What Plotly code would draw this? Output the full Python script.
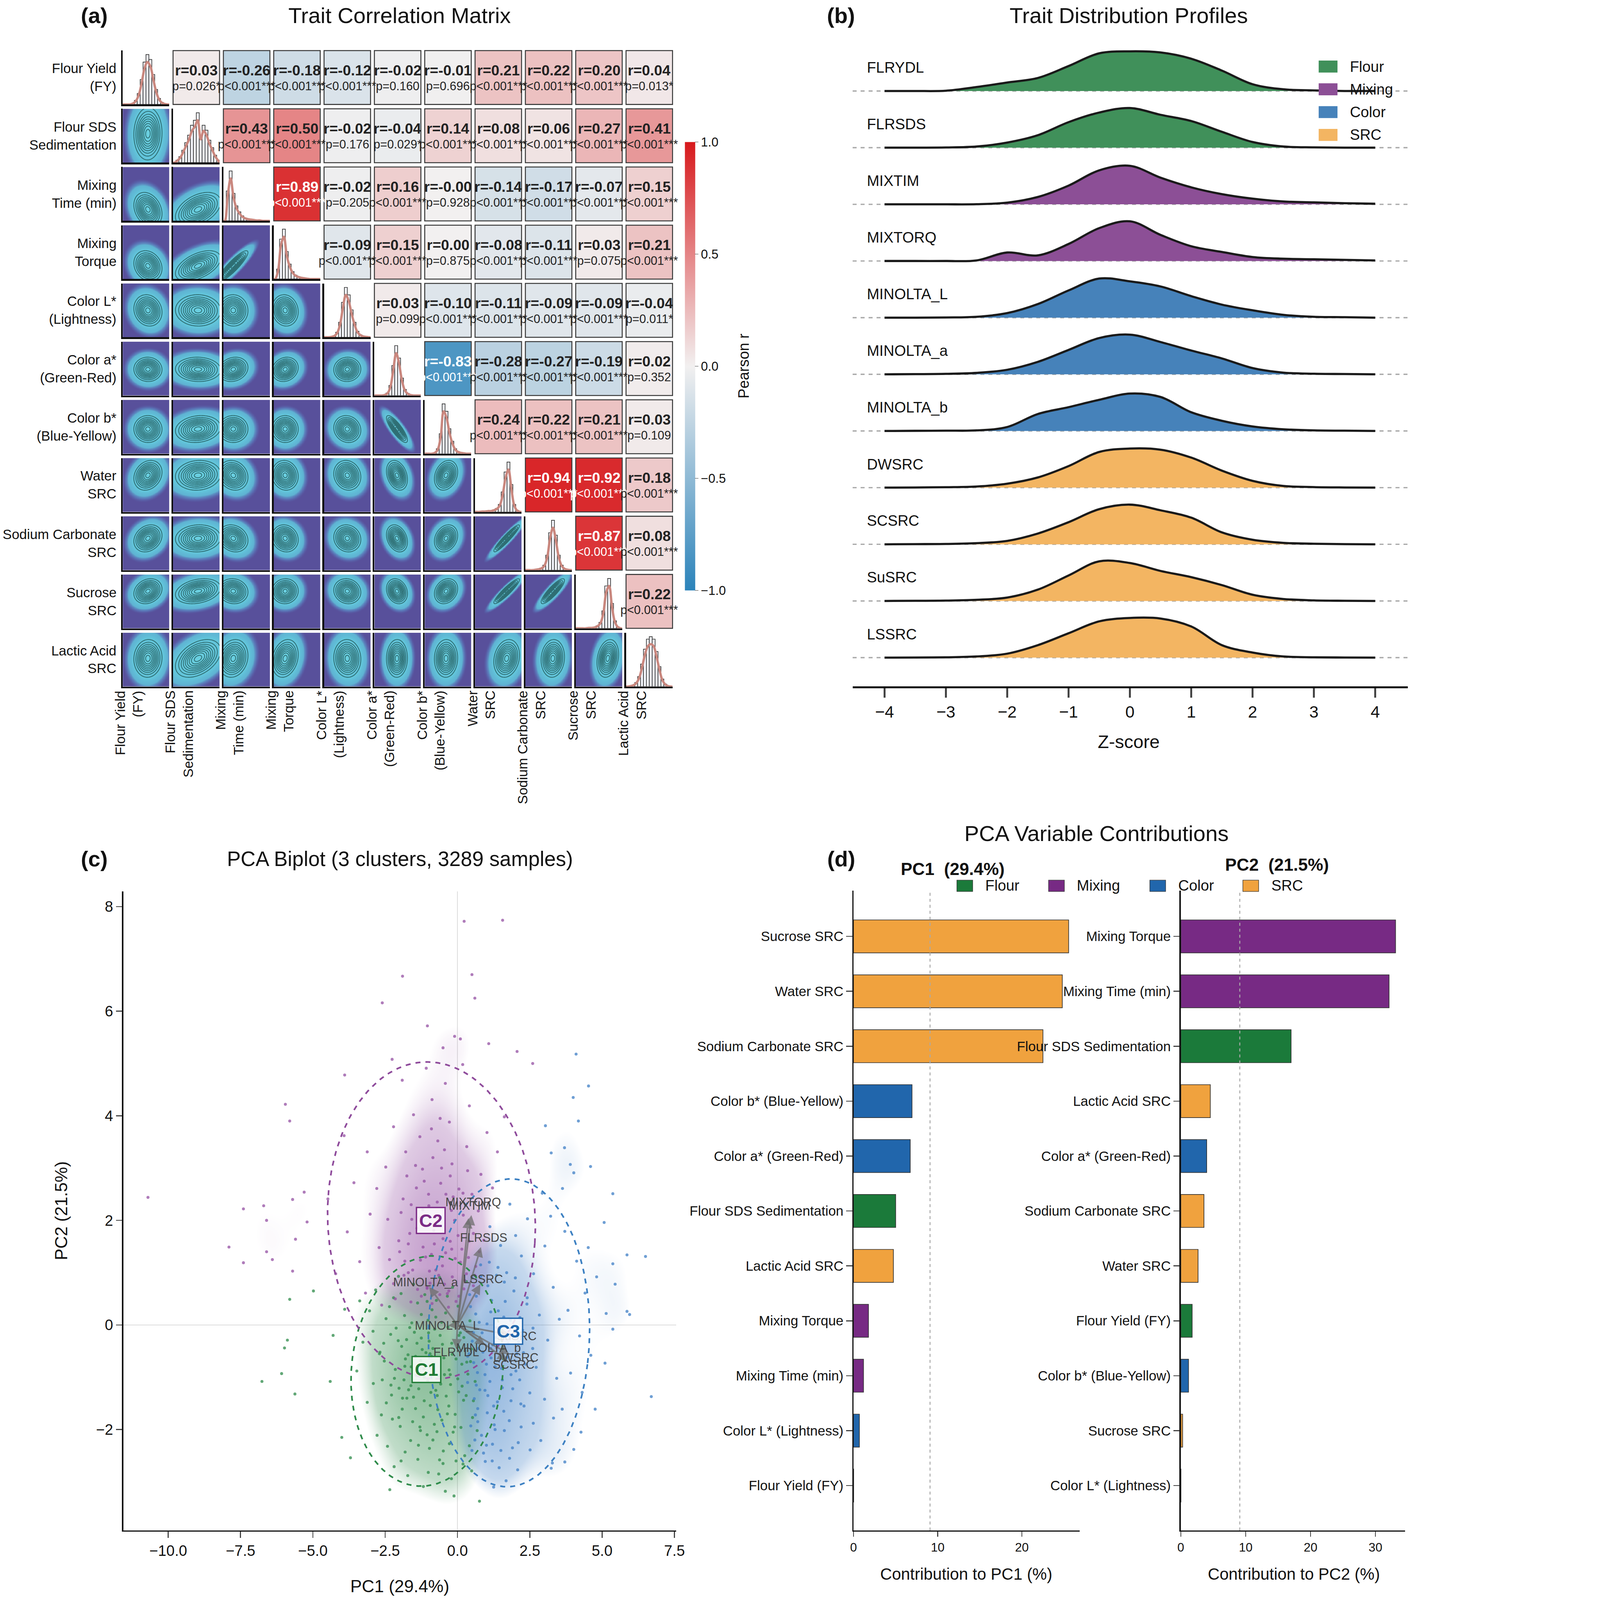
import numpy as np
import plotly.graph_objects as go

W, H = 4258, 4810
FONT = "Liberation Sans, Arial, Helvetica, sans-serif"

# ---------------- data : traits ----------------
traits = ["Flour Yield (FY)", "Flour SDS Sedimentation", "Mixing Time (min)", "Mixing Torque",
          "Color L* (Lightness)", "Color a* (Green-Red)", "Color b* (Blue-Yellow)", "Water SRC",
          "Sodium Carbonate SRC", "Sucrose SRC", "Lactic Acid SRC"]
matrix_labels = ["Flour Yield<br>(FY)", "Flour SDS<br>Sedimentation", "Mixing<br>Time (min)", "Mixing<br>Torque",
                 "Color L*<br>(Lightness)", "Color a*<br>(Green-Red)", "Color b*<br>(Blue-Yellow)", "Water<br>SRC",
                 "Sodium Carbonate<br>SRC", "Sucrose<br>SRC", "Lactic Acid<br>SRC"]
codes = ["FLRYDL", "FLRSDS", "MIXTIM", "MIXTORQ", "MINOLTA_L", "MINOLTA_a", "MINOLTA_b",
         "DWSRC", "SCSRC", "SuSRC", "LSSRC"]
groups = ["Flour", "Flour", "Mixing", "Mixing", "Color", "Color", "Color", "SRC", "SRC", "SRC", "SRC"]
group_names = ["Flour", "Mixing", "Color", "SRC"]

# upper triangle of the correlation matrix, row by row
r_rows = [
    [0.03, -0.26, -0.18, -0.12, -0.02, -0.01, 0.21, 0.22, 0.20, 0.04],
    [0.43, 0.50, -0.02, -0.04, 0.14, 0.08, 0.06, 0.27, 0.41],
    [0.89, -0.02, 0.16, -0.0, -0.14, -0.17, -0.07, 0.15],
    [-0.09, 0.15, 0.00, -0.08, -0.11, 0.03, 0.21],
    [0.03, -0.10, -0.11, -0.09, -0.09, -0.04],
    [-0.83, -0.28, -0.27, -0.19, 0.02],
    [0.24, 0.22, 0.21, 0.03],
    [0.94, 0.92, 0.18],
    [0.87, 0.08],
    [0.22],
]
P3 = "p<0.001***"
p_rows = [
    ["p=0.026*", P3, P3, P3, "p=0.160", "p=0.696", P3, P3, P3, "p=0.013*"],
    [P3, P3, "p=0.176", "p=0.029*", P3, P3, P3, P3, P3],
    [P3, "p=0.205", P3, "p=0.928", P3, P3, P3, P3],
    [P3, P3, "p=0.875", P3, P3, "p=0.075", P3],
    ["p=0.099", P3, P3, P3, P3, "p=0.011*"],
    [P3, P3, P3, P3, "p=0.352"],
    [P3, P3, P3, "p=0.109"],
    [P3, P3, P3],
    [P3, P3],
    [P3],
]

# diagonal histograms (relative bar heights, 16 bins across each cell)
hist_counts = {
    "FLRYDL":    [0, 0, 0, 0.02, 0.08, 0.22, 0.50, 0.85, 1.00, 0.90, 0.60, 0.30, 0.12, 0.04, 0.01, 0],
    "FLRSDS":    [0, 0.05, 0.12, 0.25, 0.40, 0.55, 0.75, 0.85, 1.00, 0.55, 0.75, 0.65, 0.45, 0.30, 0.15, 0.05],
    "MIXTIM":    [0, 0.60, 1.00, 0.55, 0.30, 0.18, 0.10, 0.06, 0.04, 0.03, 0.02, 0.01, 0.01, 0, 0, 0],
    "MIXTORQ":   [0, 0.20, 0.80, 1.00, 0.55, 0.30, 0.15, 0.08, 0.05, 0.03, 0.02, 0.01, 0, 0, 0, 0],
    "MINOLTA_L": [0, 0, 0.01, 0.03, 0.10, 0.30, 0.70, 1.00, 0.85, 0.55, 0.30, 0.12, 0.05, 0.02, 0.01, 0],
    "MINOLTA_a": [0, 0, 0, 0.01, 0.05, 0.20, 0.60, 1.00, 0.75, 0.35, 0.12, 0.04, 0.01, 0, 0, 0],
    "MINOLTA_b": [0, 0, 0, 0.02, 0.10, 0.40, 1.00, 0.85, 0.50, 0.25, 0.10, 0.04, 0.02, 0.01, 0, 0],
    "DWSRC":     [0, 0, 0.01, 0.01, 0.02, 0.02, 0.04, 0.07, 0.15, 0.40, 0.80, 1.00, 0.55, 0.15, 0.03, 0],
    "SCSRC":     [0, 0, 0, 0.01, 0.02, 0.04, 0.10, 0.30, 0.75, 1.00, 0.70, 0.30, 0.10, 0.03, 0.01, 0],
    "SuSRC":     [0, 0, 0, 0, 0.01, 0.01, 0.02, 0.05, 0.12, 0.35, 0.85, 1.00, 0.50, 0.15, 0.03, 0],
    "LSSRC":     [0, 0.01, 0.03, 0.08, 0.20, 0.45, 0.75, 0.95, 1.00, 0.95, 0.70, 0.40, 0.15, 0.05, 0.01, 0],
}

# ---------------- data : ridgelines (density read at z = -4 .. 4, step 0.5) ----------------
z_grid = [-4.0, -3.5, -3.0, -2.5, -2.0, -1.5, -1.0, -0.5, 0.0, 0.5, 1.0, 1.5, 2.0, 2.5, 3.0, 3.5, 4.0]
ridge_density = {
    "FLRYDL":    [0, 0, 0.005, 0.07, 0.15, 0.23, 0.44, 0.665, 0.70, 0.68, 0.57, 0.36, 0.12, 0.03, 0.01, 0, 0],
    "FLRSDS":    [0, 0, 0.003, 0.02, 0.09, 0.22, 0.45, 0.62, 0.70, 0.58, 0.47, 0.28, 0.10, 0.02, 0.005, 0, 0],
    "MIXTIM":    [0, 0, 0, 0.002, 0.03, 0.13, 0.33, 0.60, 0.68, 0.47, 0.30, 0.18, 0.10, 0.05, 0.035, 0.02, 0.01],
    "MIXTORQ":   [0, 0, 0, 0.01, 0.15, 0.10, 0.30, 0.58, 0.70, 0.46, 0.26, 0.16, 0.07, 0.04, 0.03, 0.02, 0.01],
    "MINOLTA_L": [0, 0, 0.003, 0.015, 0.08, 0.24, 0.48, 0.69, 0.64, 0.55, 0.38, 0.23, 0.13, 0.05, 0.015, 0.008, 0],
    "MINOLTA_a": [0, 0.003, 0.008, 0.025, 0.08, 0.22, 0.43, 0.64, 0.70, 0.57, 0.42, 0.28, 0.11, 0.03, 0.01, 0.005, 0],
    "MINOLTA_b": [0, 0.003, 0.006, 0.01, 0.07, 0.30, 0.42, 0.55, 0.66, 0.60, 0.33, 0.18, 0.08, 0.03, 0.01, 0.005, 0],
    "DWSRC":     [0, 0.003, 0.008, 0.02, 0.07, 0.18, 0.38, 0.63, 0.69, 0.67, 0.53, 0.30, 0.12, 0.03, 0.01, 0.003, 0],
    "SCSRC":     [0, 0.003, 0.006, 0.02, 0.06, 0.19, 0.39, 0.62, 0.70, 0.60, 0.47, 0.21, 0.08, 0.025, 0.01, 0.003, 0],
    "SuSRC":     [0, 0.003, 0.006, 0.02, 0.06, 0.20, 0.45, 0.70, 0.67, 0.53, 0.42, 0.28, 0.11, 0.035, 0.01, 0.003, 0],
    "LSSRC":     [0, 0.002, 0.006, 0.02, 0.07, 0.22, 0.43, 0.64, 0.70, 0.69, 0.55, 0.22, 0.09, 0.02, 0.006, 0.002, 0],
}

# ---------------- data : PCA scores ----------------
c1_x = [-2.83, -2.04, -1.52, -1.13, -0.62, -0.17, 0.31, -3.38, -3.04, -2.47, -2.21, -1.83, -1.38, -1.02,
        -0.73, -0.41, 0.02, 0.43, -2.92, -1.58, -0.88, -0.12, -3.27, -2.68, -2.31, -1.93, -1.49, -1.22,
        -0.79, -0.52, -0.18, 0.22, 0.48, -1.71, -0.98, -0.33, -2.12, 0.03, -3.48, -2.91, -2.53, -2.18,
        -1.82, -1.61, -1.27, -1.03, -0.81, -0.58, -0.29, 0.01, 0.32, 0.61, -1.44, -0.47, -2.02, 0.16,
        -1.16, -3.12, -2.63, -2.28, -1.91, -1.52, -1.18, -0.92, -0.68, -0.39, -0.08, 0.21, 0.52, -1.69,
        -0.54, -2.03, 0.04, -2.78, -2.42, -1.98, -1.62, -1.28, -0.97, -0.71, -0.28, 0.12, 0.41, -1.81,
        -0.49, 0.68, -2.19, -1.72, -1.37, -1.01, -0.62, -0.21, 0.19, -1.18, -0.42, 0.49, -1.09, -0.66,
        -0.94, -1.34, -0.24, -1.76, 0.36, -2.46, -0.85, -1.40, -0.30, -1.85, -0.55, 0.15, -1.25, -2.60,
        -6.76, -6.08, -5.98, -5.88, -5.80, -4.98, -5.62, -4.40, -4.00, -3.70, -2.34, 0.76, -0.12, -4.30,
        -3.90, -2.35, -1.95, -1.65, -1.05, -0.75, -0.35, 0.05, 0.45, -2.55, -2.15, -1.75, -1.45, -0.95,
        -0.45, -0.05, 0.30, -2.25, -1.55, -1.15, -0.85, -0.15, 0.25, -1.95, -1.35, -0.65, 0.55, -2.05,
        -1.25, -0.75, -0.10, -1.60, -0.90, -0.35, -2.30, -1.05, -0.50, 0.10, -1.45, -0.20, -0.80, -1.90,
        -1.15, -0.60, -2.70, -0.05, -1.30, -0.70, -1.80, -0.25, -1.00]
c1_y = [0.67, 0.93, 0.78, 0.58, 0.91, 0.72, 0.83, 0.46, 0.27, 0.12, 0.52, 0.18, 0.42, 0.09,
        0.47, 0.23, 0.36, 0.08, -0.12, 0.04, 0.29, 0.06, -0.33, -0.52, -0.18, -0.41, -0.14, -0.47,
        -0.08, -0.37, -0.56, -0.24, -0.46, -0.57, -0.31, -0.04, -0.06, -0.42, -0.88, -1.12, -0.69, -1.02,
        -0.79, -1.16, -0.68, -1.07, -0.74, -1.13, -0.86, -1.03, -0.71, -1.08, -0.96, -0.63, -1.21, -1.17,
        -0.84, -1.48, -1.72, -1.34, -1.61, -1.38, -1.76, -1.29, -1.62, -1.36, -1.71, -1.44, -1.77, -1.24,
        -1.82, -1.77, -1.28, -2.11, -2.32, -1.94, -2.21, -2.02, -2.36, -2.04, -2.27, -1.96, -2.31, -2.43,
        -2.41, -2.02, -2.71, -2.88, -2.57, -2.82, -2.58, -2.94, -2.66, -3.09, -3.18, -2.79, -0.53, -0.97,
        -1.54, -1.22, -1.14, -0.28, -0.94, -1.49, -0.45, -0.35, -1.55, -1.05, 0.05, -0.75, 0.20, -1.05,
        -1.08, -0.93, -0.44, -0.29, 0.49, 0.65, -1.32, -1.08, -2.15, -2.54, -3.15, -3.37, -3.27, -0.20,
        0.30, 0.35, 0.60, -0.05, 0.45, 0.15, 0.55, -0.20, -0.70, -0.35, -0.85, -1.40, -0.60, -0.55,
        -0.95, -0.65, -1.35, -1.80, -1.85, -1.45, -2.20, -2.05, -2.50, -2.60, -2.30, -2.85, -1.45, -0.30,
        -0.25, -1.25, -1.95, -0.80, -0.60, -1.70, -1.15, -2.10, -2.65, -0.15, -1.60, -0.35, -1.90, -1.40,
        -1.00, -0.20, -0.55, -2.60, -1.95, -1.35, -0.65, -0.95, -0.15]

c2_x = [-2.21, -1.82, -1.38, -0.97, -0.61, -0.18, 0.22, 0.63, -2.03, -1.58, -1.19, -0.82, -0.41, 0.02,
        0.38, 0.91, -1.88, -1.42, -0.99, -0.58, -0.21, 0.19, 0.72, -0.88, -0.31, -1.61, -0.52, -1.28,
        0.31, -0.08, -0.69, -2.48, -1.79, -1.21, -0.68, -0.19, 0.32, 0.81, -2.21, -1.52, -0.88, -0.28,
        0.41, 1.02, -1.91, -1.08, -0.42, 0.18, 1.38, 1.62, -2.79, 1.21, -3.81, -3.38, -3.02, -2.71,
        -3.18, -2.62, -3.58, -4.21, -2.41, -3.12, -4.48, -3.92, -1.05, -0.45, -1.70, 0.05, -0.25, -1.15,
        0.55, -0.90, -10.70, -7.90, -7.40, -7.40, -6.70, -6.60, -6.60, -6.40, -5.95, -5.80, -5.70, -5.70,
        -5.60, -5.30, -5.20, -3.90, -2.60, -1.90, -1.04, 0.23, 1.56, 0.50, 0.60, -0.10, 0.10, 1.08,
        2.06, 2.60, -2.26, -0.50, -2.15, -1.85, -1.55, -1.25, -0.95, -0.65, -0.35, -0.05, 0.25, 0.55,
        -2.00, -1.70, -1.40, -1.10, -0.80, -0.50, -0.20, 0.10, 0.40, 0.75, -1.95, -1.60, -1.30, -1.00,
        -0.70, -0.40, -0.10, 0.20, 0.50, -1.75, -1.45, -1.15, -0.85, -0.55, -0.25, 0.05, 0.35, -1.30,
        -0.90, -0.60, -2.35, -0.30, 0.60, -1.05, -0.15, -1.65, -0.75, 0.15, -0.45, -1.20]
c2_y = [0.79, 1.22, 0.68, 1.03, 0.58, 0.92, 0.69, 1.12, 1.61, 2.02, 1.49, 1.81, 1.38, 1.71,
        1.29, 1.62, 2.41, 2.62, 2.28, 2.71, 2.19, 2.52, 2.18, 0.41, 0.34, 0.44, 1.13, 1.24,
        0.98, 1.27, 2.06, 3.02, 3.31, 2.98, 3.52, 3.08, 3.41, 2.88, 3.79, 4.02, 4.31, 3.88,
        4.19, 3.68, 4.68, 4.91, 4.62, 4.98, 3.31, 3.98, 2.61, 2.62, 1.78, 1.21, 2.12, 1.48,
        0.61, 0.38, 2.72, 0.98, 2.02, 3.31, 2.41, 3.62, 0.72, 0.78, 1.00, 0.55, 1.60, 1.90,
        1.75, 1.35, 2.44, 1.49, 1.19, 2.22, 2.28, 2.00, 1.40, 1.25, 4.22, 3.90, 2.40, 1.03,
        1.64, 2.54, 1.97, 4.78, 6.16, 6.67, 5.72, 7.72, 7.74, 6.70, 6.25, 5.52, 5.47, 5.38,
        5.23, 5.00, 5.08, 5.30, 0.50, 0.95, 1.05, 0.55, 0.80, 0.95, 0.60, 0.45, 0.85, 0.75,
        1.40, 1.55, 1.85, 1.30, 1.55, 1.65, 1.45, 1.20, 1.60, 1.40, 2.15, 2.30, 2.05, 2.50,
        2.35, 2.50, 2.00, 2.10, 2.50, 2.85, 3.05, 2.75, 3.20, 3.00, 2.85, 2.60, 2.95, 3.60,
        3.75, 3.95, 1.25, 0.65, 0.95, 0.70, 2.45, 1.75, 1.05, 1.45, 3.35, 2.20]

c3_x = [0.42, 0.81, 1.18, 1.62, 0.63, 1.02, 1.41, 1.83, 0.51, 0.88, 1.32, 1.71, 0.69, 1.12,
        1.52, 1.91, 0.58, 1.03, 1.38, 1.79, 0.83, 1.21, 1.62, 0.96, 1.44, 0.56, 1.16, 0.77,
        1.27, 0.46, 2.11, 2.02, 2.21, 2.63, 3.02, 2.41, 2.83, 3.31, 2.28, 2.72, 3.12, 3.43,
        2.19, 2.62, 3.01, 2.51, 2.88, 3.32, 2.08, 2.42, 2.01, 2.93, 3.22, 1.49, 1.12, 1.81,
        2.61, 3.52, 2.16, 3.71, 4.12, 4.41, 3.82, 4.22, 4.61, 3.91, 4.31, 3.62, 4.02, 3.71,
        4.52, 4.81, 3.63, 4.02, 0.35, 0.65, 1.35, 0.85, 1.55, 0.50, 1.05, 1.75, 0.72, 0.95,
        1.22, 0.62, 4.10, 4.53, 4.00, 4.18, 3.04, 3.24, 3.70, 3.90, 4.60, 5.37, 5.07, 5.86,
        6.50, 5.37, 5.45, 5.86, 5.95, 5.14, 5.37, 5.10, 6.70, 4.76, 4.27, 3.24, 3.28, 1.68,
        1.25, 0.45, 0.75, 1.05, 1.35, 1.65, 1.95, 2.25, 0.55, 0.85, 1.15, 1.45, 1.75, 2.05,
        2.35, 0.65, 0.95, 1.25, 1.55, 1.85, 2.15, 0.40, 0.70, 1.00, 1.30, 1.60, 1.90, 2.20,
        2.50, 0.60, 0.90, 1.20, 1.50, 1.80, 2.10, 2.40, 0.80, 1.10, 1.40, 1.70, 2.00, 0.50,
        1.30, 0.35, 2.30, 1.00, 1.60, 0.70, 2.60, 1.85, 1.15]
c3_y = [0.58, 0.93, 0.47, 0.82, 0.21, 0.02, 0.27, 0.09, -0.31, -0.52, -0.24, -0.62, -0.91, -1.08,
        -0.83, -1.22, -1.41, -1.68, -1.47, -1.83, -2.11, -2.28, -2.02, -2.61, -2.73, -0.72, -0.63, -1.24,
        -1.91, -1.93, -0.32, -0.88, 1.32, 0.98, 1.51, 0.52, 0.19, 0.72, -0.53, -0.81, -0.29, -1.02,
        -1.51, -1.88, -1.42, -2.39, -2.21, -1.78, -2.77, 2.03, 1.71, 2.52, 2.08, 1.52, 1.88, 2.31,
        -0.06, 0.11, 0.14, 1.79, 1.22, 0.61, 0.28, -0.21, -0.58, -0.92, -1.29, -1.61, -2.38, -2.62,
        1.48, 0.92, 2.61, 2.91, -1.10, 0.55, 0.95, -0.15, -1.20, -2.40, -1.35, -0.20, -0.45, -0.95,
        -0.38, -1.72, 5.18, 4.57, 4.35, 3.90, 3.81, 3.29, 3.39, 3.07, 3.03, 2.51, 1.96, 1.34,
        1.31, 1.17, 0.78, 0.26, 0.20, 0.22, -0.08, -0.73, -1.37, -1.61, -2.05, -2.74, -2.64, -2.98,
        -3.10, 0.35, 0.05, 0.75, -0.05, 0.45, 0.65, -0.10, -0.15, -0.35, -0.45, -0.05, -0.35, -0.55,
        -0.75, -1.15, -1.25, -1.55, -1.05, -1.45, -1.05, -0.55, -1.60, -2.30, -2.00, -1.65, -2.35, -1.95,
        -1.30, -2.20, -2.45, -2.60, -2.40, -2.55, -2.25, 0.40, 1.15, 1.20, 1.10, 1.00, 0.90, 0.90,
        -0.80, -0.60, -1.55, -0.75, 0.15, -1.85, -0.45, -0.95, 0.25]

cluster_names = ["C1", "C2", "C3"]
cluster_cx = [-1.07, -0.92, 1.76]      # label / centroid positions
cluster_cy = [-0.85, 2.00, -0.12]
ell_cx = [-1.05, -0.90, 1.78]           # 95% ellipses
ell_cy = [-0.88, 2.00, -0.15]
ell_a = [2.65, 3.60, 2.78]
ell_b = [2.18, 3.02, 2.95]
ell_angle = [12, -7, -12]

load_names = ["MIXTORQ", "MIXTIM", "FLRSDS", "LSSRC", "MINOLTA_a", "MINOLTA_L",
              "SuSRC", "MINOLTA_b", "DWSRC", "SCSRC", "FLRYDL"]
load_x = [0.48, 0.38, 0.81, 0.79, -0.98, -0.32, 1.82, 0.96, 1.80, 1.73, -0.04]
load_y = [2.10, 2.04, 1.49, 0.78, 0.73, -0.01, -0.19, -0.39, -0.56, -0.68, -0.46]

# ---------------- data : PCA contributions (%) ----------------
pc1_contrib = [0.02, 5.01, 1.19, 1.78, 0.70, 6.74, 6.95, 24.8, 22.5, 25.55, 4.74]
pc2_contrib = [1.75, 17.0, 32.1, 33.1, 0.02, 3.99, 1.19, 2.66, 3.57, 0.28, 4.55]

# ---------------- styles ----------------
ridge_colors = {"Flour": "#40905a", "Mixing": "#8c4f96", "Color": "#4682ba", "SRC": "#f3b562"}
bar_colors = {"Flour": "#1b7a3a", "Mixing": "#772a84", "Color": "#2166ac", "SRC": "#f0a23e"}
pt_rgb = [(46, 139, 74), (148, 80, 163), (63, 127, 197)]
ell_colors = ["#2e8b4a", "#8e4a9b", "#3c80c2"]
lab_colors = ["#1e7b34", "#7b2a85", "#2166ac"]
r_scale = [[0, "#2b83ba"], [0.5, "#f2f0f0"], [1, "#d7191c"]]
dens_scale = [[0, "#58509b"], [0.002, "#58509b"], [0.008, "#5a70b4"], [0.025, "#5fb4d3"],
              [0.1, "#62c4da"], [1, "#6acfe0"]]

fig = go.Figure()
layout = dict(width=W, height=H, margin=dict(l=0, r=0, t=0, b=0), paper_bgcolor="white",
              plot_bgcolor="rgba(0,0,0,0)", showlegend=False, font=dict(family=FONT, color="#111"))
annotations = []
shapes = []


def xdom(x0, x1):
    return [x0 / W, x1 / W]


def ydom(y0, y1):
    return [1 - y1 / H, 1 - y0 / H]


n_ax = [0]


def add_axes(xd, yd, xo=None, yo=None):
    n_ax[0] += 1
    s = "" if n_ax[0] == 1 else str(n_ax[0])
    base = dict(showgrid=False, zeroline=False, showticklabels=False, ticks="")
    xa = dict(base, domain=xd, anchor="y" + s)
    xa.update(xo or {})
    ya = dict(base, domain=yd, anchor="x" + s)
    ya.update(yo or {})
    layout["xaxis" + s] = xa
    layout["yaxis" + s] = ya
    return "x" + s, "y" + s


def note(text, x, y, size, **kw):
    d = dict(text=text, x=x / W, y=1 - y / H, xref="paper", yref="paper", showarrow=False,
             xanchor="center", yanchor="middle", font=dict(size=size, family=FONT, color="#111"))
    d.update(kw)
    annotations.append(d)


# ======================= (a) correlation matrix =======================
N = len(traits)
R = np.eye(N)
for i, row in enumerate(r_rows):
    for k, v in enumerate(row):
        R[i, i + 1 + k] = R[i + 1 + k, i] = v

M_LEFT, M_TOP = 362.0, 152.0
C_PITCH, R_PITCH = 152.6, 175.0
C_W, R_H = 141.0, 162.0
gx, gy = C_PITCH - C_W, R_PITCH - R_H

xm, ym = add_axes(xdom(M_LEFT - gx / 2, M_LEFT + N * C_PITCH - gx / 2),
                  ydom(M_TOP - gy / 2, M_TOP + N * R_PITCH - gy / 2),
                  dict(range=[-0.5, N - 0.5]), dict(range=[N - 0.5, -0.5]))
z_up = [[R[i, j] if j > i else None for j in range(N)] for i in range(N)]
fig.add_trace(go.Heatmap(
    z=z_up, x=list(range(N)), y=list(range(N)), xaxis=xm, yaxis=ym, colorscale=r_scale,
    zmin=-1, zmax=1, xgap=gx, ygap=gy, hoverinfo="skip",
    colorbar=dict(x=2066 / W, xanchor="left", xpad=0, ypad=0, y=1 - 1101 / H, yanchor="middle",
                  len=1348 / H, lenmode="fraction", thickness=31, thicknessmode="pixels",
                  outlinewidth=0, tickvals=[-1, -0.5, 0, 0.5, 1],
                  ticktext=["\u22121.0", "\u22120.5", "0.0", "0.5", "1.0"], ticks="outside",
                  ticklen=10, tickwidth=2, tickfont=dict(size=38, family=FONT))))
note("Pearson r", 2244, 1101, 45, textangle=-90)

hw, hh = C_W / C_PITCH / 2, R_H / R_PITCH / 2
for i, row in enumerate(r_rows):
    for k, v in enumerate(row):
        j = i + 1 + k
        shapes.append(dict(type="rect", xref=xm, yref=ym, x0=j - hw, x1=j + hw, y0=i - hh, y1=i + hh,
                           line=dict(color="#3a3a3a", width=3)))
        col = "white" if abs(v) > 0.6 else "#222"
        annotations.append(dict(text="<b>r=%.2f</b>" % v, x=j, y=i - 2 * hh * 0.13, xref=xm, yref=ym,
                                xanchor="center", yanchor="middle", showarrow=False,
                                font=dict(size=44, color=col, family=FONT)))
        annotations.append(dict(text=p_rows[i][k], x=j, y=i + 2 * hh * 0.16, xref=xm, yref=ym,
                                xanchor="center", yanchor="middle", showarrow=False,
                                font=dict(size=36, color=col, family=FONT)))

centers = (np.arange(16) + 0.5) / 16
stats = []
for c in codes:
    h = np.array(hist_counts[c], dtype=float)
    m = (centers * h).sum() / h.sum()
    s = np.sqrt(((centers - m) ** 2 * h).sum() / h.sum())
    stats.append((m, s * 1.35))

grid = np.linspace(0, 1, 61)
GX, GY = np.meshgrid(grid, grid)
spine = dict(showline=True, linecolor="#111", linewidth=5)
for i in range(N):
    for j in range(i + 1):
        x0 = M_LEFT + j * C_PITCH
        y0 = M_TOP + i * R_PITCH
        if i == j:
            xa, ya = add_axes(xdom(x0, x0 + C_W), ydom(y0, y0 + R_H),
                              dict(range=[0, 1], **spine), dict(range=[0, 1.08], **spine))
            h = hist_counts[codes[i]]
            fig.add_trace(go.Bar(x=centers, y=h, width=1 / 16, xaxis=xa, yaxis=ya, hoverinfo="skip",
                                 marker=dict(color="#f6f8fe", line=dict(color="#333", width=2))))
            fig.add_trace(go.Scatter(x=[0] + list(centers) + [1], y=[0] + [v * 0.85 for v in h] + [0],
                                     mode="lines", xaxis=xa, yaxis=ya, hoverinfo="skip",
                                     line=dict(color="#c9877e", width=7, shape="spline")))
        else:
            xa, ya = add_axes(xdom(x0, x0 + C_W), ydom(y0, y0 + R_H),
                              dict(range=[0, 1], **spine), dict(range=[0, 1], **spine))
            mx, sx = stats[j]
            my, sy = stats[i]
            rho = R[i, j]
            dx, dy = (GX - mx) / sx, (GY - my) / sy
            Z = np.exp(-0.5 * (dx ** 2 - 2 * rho * dx * dy + dy ** 2) / (1 - rho ** 2))
            fig.add_trace(go.Heatmap(x=grid, y=grid, z=Z, xaxis=xa, yaxis=ya, colorscale=dens_scale,
                                     zmin=0, zmax=1, showscale=False, hoverinfo="skip", zsmooth="best"))
            fig.add_trace(go.Contour(x=grid, y=grid, z=Z, xaxis=xa, yaxis=ya, showscale=False,
                                     hoverinfo="skip",
                                     contours=dict(coloring="none", start=0.15, end=0.95, size=0.1),
                                     line=dict(color="#2f6f74", width=2.5)))

for i in range(N):
    note(matrix_labels[i], 345, M_TOP + i * R_PITCH + R_H / 2, 41, xanchor="right", align="right")
    note(matrix_labels[i], M_LEFT + i * C_PITCH + C_W / 2, 2074, 41, xanchor="right", yanchor="top",
         textangle=-90, align="right")

note("<b>(a)</b>", 276, 46, 66)
note("Trait Correlation Matrix", 1202, 46, 66)

# ======================= (b) ridgelines =======================
xb, yb = add_axes(xdom(2575, 4258), ydom(123, 2063),
                  dict(range=[-4.52, 4.53], tickvals=list(range(-4, 5)), ticks="outside", ticklen=28,
                       tickwidth=5, showline=True, linewidth=6, linecolor="#111", showticklabels=True,
                       tickfont=dict(size=50, family=FONT)),
                  dict(range=[-0.505, 10.884]))
for k, c in enumerate(codes):
    base = N - 1 - k
    shapes.append(dict(type="line", xref=xb + " domain", yref=yb, x0=0, x1=1, y0=base, y1=base,
                       line=dict(color="#aaaaaa", width=4, dash="dash"), layer="below"))
    fig.add_trace(go.Scatter(x=z_grid, y=[base] * len(z_grid), mode="lines", line=dict(width=0),
                             xaxis=xb, yaxis=yb, hoverinfo="skip"))
    fig.add_trace(go.Scatter(x=z_grid, y=[base + d for d in ridge_density[c]], mode="lines",
                             fill="tonexty", fillcolor=ridge_colors[groups[k]], xaxis=xb, yaxis=yb,
                             hoverinfo="skip", line=dict(color="#1a1a1a", width=6.5, shape="spline")))
    annotations.append(dict(text=c, x=-4.30, y=base + 0.415, xref=xb, yref=yb, xanchor="left",
                            yanchor="middle", showarrow=False,
                            font=dict(size=45, family=FONT, color="#111")))

for g, name in enumerate(group_names):
    yc = 200 + g * 68.5
    shapes.append(dict(type="rect", xref="paper", yref="paper", x0=3988 / W, x1=4045 / W,
                       y0=1 - (yc + 18) / H, y1=1 - (yc - 18) / H, fillcolor=ridge_colors[name],
                       line=dict(width=0)))
    note(name, 4080, yc, 45, xanchor="left")

note("<b>(b)</b>", 2539, 46, 66)
note("Trait Distribution Profiles", 3412, 46, 66)
note("Z-score", 3412, 2230, 55)

# ======================= (c) PCA biplot =======================
tick_c = dict(ticks="outside", ticklen=18, tickwidth=3, showline=True, linewidth=4, linecolor="#111",
              showticklabels=True, tickfont=dict(size=45, family=FONT), zeroline=True,
              zerolinecolor="#dcdcdc", zerolinewidth=3)
XR, YR = [-11.55, 7.56], [-3.93, 8.29]
xc, yc_ = add_axes(xdom(364, 2040), ydom(2680, 4601),
                   dict(range=XR, tickvals=[-10, -7.5, -5, -2.5, 0, 2.5, 5, 7.5],
                        tickformat=".1f", **tick_c),
                   dict(range=YR, tickvals=[-2, 0, 2, 4, 6, 8], **tick_c))

# smoothed point density under the markers (the dense cloud of 3289 samples)
kx = np.linspace(XR[0], XR[1], 280)
ky = np.linspace(YR[0], YR[1], 240)
KX, KY = np.meshgrid(kx, ky)
clouds = [(c1_x, c1_y), (c2_x, c2_y), (c3_x, c3_y)]
for (px_, py_), rgb in zip(clouds, pt_rgb):
    dens = np.zeros_like(KX)
    for a, b in zip(px_, py_):
        dens += np.exp(-0.5 * (((KX - a) / 0.55) ** 2 + ((KY - b) / 0.45) ** 2))
    dens /= dens.max()
    cs = [[0, "rgba(%d,%d,%d,0)" % rgb], [0.16, "rgba(%d,%d,%d,0)" % rgb],
          [0.35, "rgba(%d,%d,%d,0.3)" % rgb], [1, "rgba(%d,%d,%d,0.55)" % rgb]]
    fig.add_trace(go.Heatmap(x=kx, y=ky, z=dens, xaxis=xc, yaxis=yc_, colorscale=cs, zmin=0, zmax=1,
                             showscale=False, hoverinfo="skip", zsmooth="best"))
for (px_, py_), rgb in zip(clouds, pt_rgb):
    fig.add_trace(go.Scatter(x=px_, y=py_, mode="markers", xaxis=xc, yaxis=yc_, hoverinfo="skip",
                             marker=dict(size=9, color="rgb(%d,%d,%d)" % rgb, opacity=0.75,
                                         line=dict(width=0))))

t = np.linspace(0, 2 * np.pi, 200)
for e in range(3):
    phi = np.deg2rad(ell_angle[e])
    ex = ell_cx[e] + ell_a[e] * np.cos(t) * np.cos(phi) - ell_b[e] * np.sin(t) * np.sin(phi)
    ey = ell_cy[e] + ell_a[e] * np.cos(t) * np.sin(phi) + ell_b[e] * np.sin(t) * np.cos(phi)
    fig.add_trace(go.Scatter(x=ex, y=ey, mode="lines", xaxis=xc, yaxis=yc_, hoverinfo="skip",
                             line=dict(color=ell_colors[e], width=5, dash="dash")))

for k, name in enumerate(load_names):
    annotations.append(dict(x=load_x[k], y=load_y[k], ax=0, ay=0, xref=xc, yref=yc_, axref=xc, ayref=yc_,
                            text="", showarrow=True, arrowhead=2, arrowsize=1.2, arrowwidth=5,
                            arrowcolor="rgba(110,110,110,0.75)"))
for k, name in enumerate(load_names):
    annotations.append(dict(x=load_x[k] * 1.12, y=load_y[k] * 1.12, xref=xc, yref=yc_, text=name,
                            xanchor="center", yanchor="middle", showarrow=False,
                            font=dict(size=36, color="#444", family=FONT)))
for k, name in enumerate(cluster_names):
    annotations.append(dict(x=cluster_cx[k], y=cluster_cy[k], xref=xc, yref=yc_, text="<b>%s</b>" % name,
                            xanchor="center", yanchor="middle", showarrow=False,
                            font=dict(size=55, color=lab_colors[k], family=FONT),
                            bgcolor="rgba(255,255,255,0.85)", bordercolor=lab_colors[k],
                            borderwidth=4, borderpad=6))

note("<b>(c)</b>", 276, 2582, 66)
note("PCA Biplot (3 clusters, 3289 samples)", 1203, 2582, 62)
note("PC1 (29.4%)", 1202, 4768, 52)
note("PC2 (21.5%)", 176, 3640, 52, textangle=-90)


# ======================= (d) contributions =======================
def contrib_panel(vals, x0, x1, xmax, xticks):
    order = sorted(range(N), key=lambda k: -vals[k])
    cats = [traits[k] for k in order]
    xa, ya = add_axes(xdom(x0, x1), ydom(2677, 4601),
                      dict(range=[0, xmax], tickvals=xticks, ticks="outside", ticklen=15, tickwidth=3,
                           showline=True, linewidth=4, linecolor="#111", showticklabels=True,
                           tickfont=dict(size=37, family=FONT)),
                      dict(type="category", categoryorder="array", categoryarray=cats,
                           range=[10.818, -0.836], ticks="outside", ticklen=18, tickwidth=3,
                           showline=True, linewidth=4, linecolor="#111", showticklabels=True,
                           tickfont=dict(size=41, family=FONT)))
    for g in group_names:
        idx = [k for k in order if groups[k] == g]
        fig.add_trace(go.Bar(x=[vals[k] for k in idx], y=[traits[k] for k in idx], orientation="h",
                             width=0.6, xaxis=xa, yaxis=ya, hoverinfo="skip",
                             marker=dict(color=bar_colors[g], line=dict(color="#333", width=2))))
    shapes.append(dict(type="line", xref=xa, yref=ya + " domain", x0=100 / N, x1=100 / N, y0=0, y1=1,
                       line=dict(color="#aaaaaa", width=3, dash="dash")))


contrib_panel(pc1_contrib, 2577.6, 3263, (3263 - 2577.6) / 25.53, [0, 10, 20])
contrib_panel(pc2_contrib, 3570, 4250, (4250 - 3570) / 19.67, [0, 10, 20, 30])

leg_x = [2891, 3169, 3476, 3758]
for g, name in enumerate(group_names):
    shapes.append(dict(type="rect", xref="paper", yref="paper", x0=leg_x[g] / W, x1=(leg_x[g] + 48) / W,
                       y0=1 - 2680 / H, y1=1 - 2646 / H, fillcolor=bar_colors[name],
                       line=dict(color="#333", width=1.5)))
    note(name, leg_x[g] + 84, 2663, 45, xanchor="left")

note("PCA Variable Contributions", 3315, 2505, 66)
note("<b>(d)</b>", 2540, 2582, 66)
note("<b>PC1  (29.4%)</b>", 2878, 2612, 52)
note("<b>PC2  (21.5%)</b>", 3862, 2600, 52)
note("Contribution to PC1 (%)", 2919, 4732, 49)
note("Contribution to PC2 (%)", 3913, 4732, 49)

layout["annotations"] = annotations
layout["shapes"] = shapes
layout["barmode"] = "overlay"
fig.update_layout(layout)

# fit the fixed-size figure into the browser window if the window is smaller
fit_js = ("var gd=document.getElementById('{plot_id}');"
          "document.documentElement.style.overflow='hidden';"
          "document.body.style.margin='0';document.body.style.overflow='hidden';"
          "var s=Math.min(window.innerWidth/%d, window.innerHeight/%d);"
          "if(s<1){gd.style.transformOrigin='0 0';gd.style.transform='scale('+s+')';}" % (W, H))
fig.write_html("out.html", post_script=fit_js, config={"displayModeBar": False})
